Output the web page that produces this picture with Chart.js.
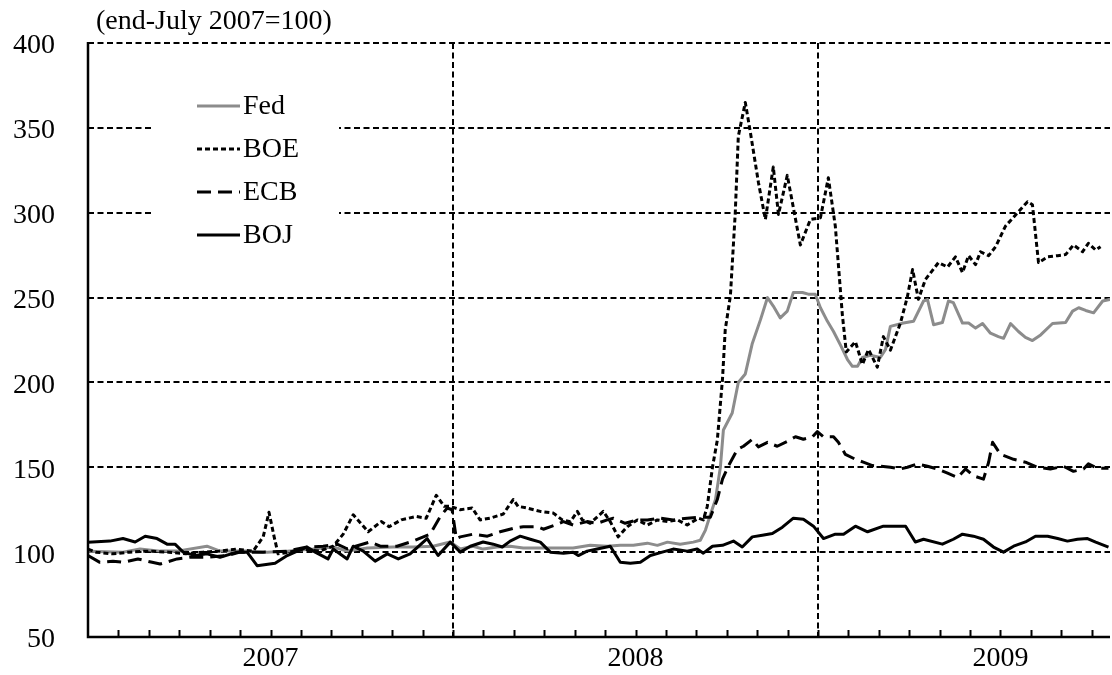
<!DOCTYPE html>
<html>
<head>
<meta charset="utf-8">
<script src="https://cdn.jsdelivr.net/npm/chart.js@4/dist/chart.umd.min.js"></script>
<style>
  html, body { margin: 0; padding: 0; background: #fff; }
</style>
</head>
<body>
<canvas id="chart" width="1112" height="675"></canvas>
<script>
// Index levels, end-July 2007 = 100. x = months since the start of 2007.
const unitNote = '(end-July 2007=100)';
const yearLabels = ['2007', '2008', '2009'];
const yearMidMonths = [6, 18, 30];
const yearBreakMonths = [12, 24];
const lastMonth = 33.6;

const fedMonth = [0, 1.15, 1.71, 2.37, 2.93, 3.91, 4.34, 5.23, 5.89, 6.55,
  7.40, 8.06, 8.52, 9.18, 10.03, 10.69, 11.35, 11.91, 12.24, 12.66,
  12.99, 13.45, 13.88, 14.31, 14.87, 15.43, 15.95, 16.51, 17.07, 17.50,
  17.93, 18.39, 18.72, 19.05, 19.47, 19.90, 20.13, 20.30, 20.46, 20.63,
  20.79, 20.89, 21.18, 21.38, 21.61, 21.84, 22.11, 22.34, 22.53, 22.76,
  22.99, 23.19, 23.49, 23.68, 23.91, 24.08, 24.31, 24.51, 24.74, 24.97,
  25.13, 25.30, 25.46, 25.72, 26.05, 26.22, 26.38, 26.81, 27.14, 27.47,
  27.60, 27.80, 28.09, 28.29, 28.45, 28.75, 28.95, 29.18, 29.41, 29.67,
  29.93, 30.10, 30.33, 30.59, 30.82, 31.05, 31.32, 31.71, 32.14, 32.37,
  32.57, 32.80, 33.06, 33.36, 33.62];
const fedValue = [100.5, 100, 101.8, 100.6, 100.6, 103.5, 100.6, 100.6, 100, 100.6,
  101.8, 103, 100.6, 102.4, 103, 103, 103.5, 106, 101.8, 103.5,
  101.8, 103, 103.5, 102.4, 102.4, 102.4, 102.4, 104, 103.5, 104,
  104, 105.3, 104, 105.9, 104.7, 105.9, 107, 113, 122, 131,
  150, 172, 182, 200, 205, 223, 237, 250, 245, 238,
  242, 253, 253, 252, 252, 244, 236, 230, 222, 213.5,
  209.5, 209.5, 214.7, 216, 214.7, 219.5, 233, 235, 236, 248,
  248.8, 234, 235.3, 248, 247, 235, 235, 232, 234.7, 229,
  227, 226, 234.7, 230, 226.5, 224.7, 228, 234.7, 235.3, 242,
  244, 242.4, 241, 248, 249];

const boeMonth = [0, 0.26, 0.82, 1.35, 1.91, 2.66, 3.22, 3.78, 4.31, 4.87,
  5.43, 5.76, 5.95, 6.12, 6.25, 6.61, 7.07, 7.60, 8.06, 8.39,
  8.72, 9.21, 9.64, 9.90, 10.30, 10.79, 11.12, 11.45, 11.71, 11.91,
  12.24, 12.63, 12.89, 13.22, 13.65, 13.98, 14.14, 14.44, 14.87, 15.30,
  15.59, 15.86, 16.09, 16.25, 16.51, 16.94, 17.17, 17.43, 17.73, 18.06,
  18.39, 18.72, 19.05, 19.38, 19.70, 20.07, 20.23, 20.36, 20.53, 20.69,
  20.86, 20.95, 21.12, 21.28, 21.38, 21.61, 21.78, 22.04, 22.27, 22.53,
  22.70, 22.99, 23.42, 23.75, 24.08, 24.34, 24.57, 24.80, 24.93, 25.23,
  25.46, 25.66, 25.95, 26.15, 26.38, 26.71, 26.94, 27.11, 27.30, 27.53,
  27.96, 28.26, 28.52, 28.75, 28.95, 29.18, 29.34, 29.61, 29.84, 30.16,
  30.56, 30.89, 31.05, 31.25, 31.55, 31.88, 32.14, 32.40, 32.70, 32.89,
  33.13, 33.29];
const boeValue = [101.8, 100, 99, 100, 100.6, 100, 99, 100, 100.6, 101.8,
  100.6, 109, 123.5, 109, 99, 100, 101.8, 100.6, 103.5, 110.6,
  122, 112, 118, 115, 119, 121, 120, 133.5, 127, 127,
  125, 126, 119, 120, 122.4, 131, 127, 126, 124, 123,
  119, 118, 124, 119, 117, 124, 118, 109, 115, 119,
  116, 119, 118, 119, 116, 120, 119, 127, 150, 166,
  202, 231, 251, 300, 345, 365, 347, 318, 296, 327,
  299, 322, 281, 296, 297, 320.6, 292, 240, 218, 224,
  210.6, 219.4, 209, 227, 219, 235, 250.6, 266.5, 249, 260.6,
  270.6, 268, 274, 264.7, 274.7, 269.4, 277, 274.7, 280, 292,
  300, 306.5, 304.7, 270.6, 274, 274.7, 275.3, 281, 277, 282,
  278, 280];

const ecbMonth = [0, 0.39, 0.82, 1.15, 1.64, 2.11, 2.37, 2.93, 3.36, 3.91,
  4.57, 5.00, 5.76, 6.55, 7.20, 7.73, 8.19, 8.52, 9.28, 9.61,
  10.16, 10.69, 11.25, 11.58, 11.81, 11.97, 12.11, 12.24, 12.66, 13.13,
  13.55, 13.98, 14.31, 14.77, 14.97, 15.36, 15.63, 15.95, 16.41, 16.74,
  17.07, 17.27, 17.66, 18.06, 18.39, 18.82, 19.24, 19.70, 20.13, 20.46,
  20.69, 20.86, 21.05, 21.35, 21.55, 21.84, 22.04, 22.34, 22.66, 22.99,
  23.26, 23.52, 23.82, 23.98, 24.18, 24.51, 24.67, 24.90, 25.23, 25.49,
  25.79, 26.05, 26.38, 26.71, 26.94, 27.27, 27.60, 27.93, 28.26, 28.59,
  28.85, 29.11, 29.44, 29.61, 29.74, 30.00, 30.43, 30.82, 31.22, 31.64,
  32.07, 32.40, 32.73, 32.89, 33.19, 33.55];
const ecbValue = [98, 94, 94.7, 94, 96, 94, 93, 96, 97, 97,
  98, 100, 100, 100.6, 103, 103.5, 104.7, 102, 106, 103.5,
  103.5, 106.5, 110.6, 121, 126, 125, 108, 109, 110.6, 109.4,
  112, 114, 115, 115, 113.5, 116, 118, 116, 118, 117,
  119, 120, 117, 119, 119, 120, 119, 120, 120.6, 120.6,
  131, 143, 150.6, 160.6, 162.4, 166.5, 162, 164.7, 162.4, 165.3,
  168, 166.5, 168, 171, 168, 168, 164.7, 157.6, 154.7, 153,
  151, 150.6, 150, 149, 150, 152, 150.6, 149, 146.5, 144,
  149, 145, 143, 153, 164.7, 157.6, 154.7, 153, 150, 149,
  150.6, 147.6, 149, 152, 149.4, 149.4];

const bojMonth = [0, 0.72, 1.15, 1.55, 1.88, 2.27, 2.60, 2.86, 3.13, 3.52,
  3.91, 4.34, 4.90, 5.23, 5.56, 6.15, 6.55, 6.88, 7.20, 7.47,
  7.89, 8.06, 8.52, 8.72, 9.05, 9.44, 9.84, 10.20, 10.59, 11.15,
  11.51, 11.91, 12.24, 12.57, 12.99, 13.32, 13.62, 13.88, 14.21, 14.54,
  14.87, 15.20, 15.63, 15.95, 16.12, 16.41, 16.74, 17.17, 17.50, 17.83,
  18.16, 18.49, 18.88, 19.24, 19.70, 20.03, 20.23, 20.53, 20.86, 21.22,
  21.51, 21.84, 22.17, 22.50, 22.83, 23.19, 23.52, 23.85, 24.18, 24.57,
  24.84, 25.23, 25.63, 26.15, 26.88, 27.20, 27.47, 28.09, 28.45, 28.75,
  29.11, 29.44, 29.77, 30.10, 30.43, 30.82, 31.15, 31.55, 31.88, 32.20,
  32.53, 32.86, 33.13, 33.55];
const bojValue = [105.9, 106.5, 108, 106, 109.4, 108, 104.7, 104.7, 100, 98,
  99, 97, 100, 100, 92, 93.5, 98, 100.6, 103, 100,
  96, 101.8, 96, 103.5, 100.6, 94.7, 99, 96, 99, 108,
  98, 105.9, 100, 103.5, 106, 104.7, 103, 106.5, 109.4, 107.6,
  105.9, 100, 99.4, 100, 98, 100.6, 101.8, 103.5, 94, 93.5,
  94, 98, 100, 101.8, 100.6, 101.8, 99.4, 103.5, 104, 106.5,
  103, 109, 110, 111, 114.7, 120, 119.4, 115.3, 108, 110.6,
  110.6, 115.3, 112, 115.3, 115.3, 106, 107.6, 104.7, 107.6, 110.6,
  109.4, 107.6, 103, 100, 103.5, 106, 109.4, 109.4, 108, 106.5,
  107.6, 108, 105.9, 103];

const FONT = "'Liberation Serif', 'Times New Roman', serif";
Chart.defaults.font.family = FONT;
Chart.defaults.font.size = 28;
Chart.defaults.color = '#000';

const points = (months, values) => months.map((m, i) => ({ x: m, y: values[i] }));

// Month tick marks inside the plot, solid axes, in-plot legend and the unit note.
const framePlugin = {
  id: 'frame',
  afterDatasetsDraw(chart) {
    const { ctx, chartArea: a, scales: { x } } = chart;
    ctx.save();
    ctx.strokeStyle = '#000';
    ctx.setLineDash([]);

    ctx.lineWidth = 2;
    ctx.beginPath();
    for (let m = 1; m < lastMonth; m++) {
      const px = Math.round(x.getPixelForValue(m)) + 0.5;
      ctx.moveTo(px, a.bottom);
      ctx.lineTo(px, a.bottom - 7);
    }
    ctx.stroke();

    ctx.lineWidth = 2.5;
    ctx.beginPath();
    ctx.moveTo(a.left, a.top - 1);
    ctx.lineTo(a.left, a.bottom);
    ctx.lineTo(a.right, a.bottom);
    ctx.stroke();

    // legend box
    ctx.fillStyle = '#fff';
    ctx.fillRect(153, 86, 186, 176);
    ctx.font = `28px ${FONT}`;
    ctx.textBaseline = 'middle';
    chart.data.datasets.forEach((ds, i) => {
      const ly = 106 + i * 43;
      ctx.strokeStyle = ds.borderColor;
      ctx.lineWidth = ds.borderWidth;
      ctx.setLineDash(ds.borderDash || []);
      ctx.beginPath();
      ctx.moveTo(197, ly);
      ctx.lineTo(240, ly);
      ctx.stroke();
      ctx.fillStyle = '#000';
      ctx.fillText(ds.label, 243, ly + 1);
    });

    ctx.setLineDash([]);
    ctx.fillStyle = '#000';
    ctx.fillText(unitNote, 96, 22);
    ctx.restore();
  },
};

new Chart(document.getElementById('chart'), {
  type: 'line',
  data: {
    datasets: [
      {
        label: 'Fed',
        data: points(fedMonth, fedValue),
        borderColor: '#8c8c8c',
        borderWidth: 3,
        order: 4,
      },
      {
        label: 'BOE',
        data: points(boeMonth, boeValue),
        borderColor: '#000',
        borderWidth: 3,
        borderDash: [5, 3],
        order: 3,
      },
      {
        label: 'ECB',
        data: points(ecbMonth, ecbValue),
        borderColor: '#000',
        borderWidth: 3,
        borderDash: [14, 7],
        order: 2,
      },
      {
        label: 'BOJ',
        data: points(bojMonth, bojValue),
        borderColor: '#000',
        borderWidth: 3,
        order: 1,
      },
    ],
  },
  options: {
    responsive: false,
    animation: false,
    layout: { padding: { top: 43, right: 2, bottom: 0, left: 0 } },
    elements: {
      point: { radius: 0 },
      line: { tension: 0, borderCapStyle: 'butt', borderJoinStyle: 'round' },
    },
    plugins: {
      legend: { display: false },
      tooltip: { enabled: false },
    },
    scales: {
      x: {
        type: 'linear',
        min: 0,
        max: lastMonth,
        afterBuildTicks: (scale) => {
          scale.ticks = yearMidMonths.concat(yearBreakMonths)
            .sort((p, q) => p - q)
            .map((v) => ({ value: v }));
        },
        afterFit: (scale) => { scale.height = 38; },
        ticks: {
          autoSkip: false,
          maxRotation: 0,
          padding: 5,
          callback: (v) => {
            const i = yearMidMonths.indexOf(v);
            return i >= 0 ? yearLabels[i] : '';
          },
        },
        grid: {
          drawTicks: false,
          lineWidth: 2,
          color: (c) => (yearBreakMonths.includes(c.tick && c.tick.value) ? '#000' : 'rgba(0,0,0,0)'),
        },
        border: { display: false, dash: [6, 3.5] },
      },
      y: {
        min: 50,
        max: 400,
        afterFit: (scale) => {
          // fixed axis width; label overhang should not shrink the plot
          scale.width = 88;
          scale.paddingTop = 0;
          scale.paddingBottom = 0;
        },
        ticks: { stepSize: 50, padding: 33, labelOffset: 3 },
        grid: {
          drawTicks: false,
          lineWidth: 2,
          color: (c) => (c.tick && c.tick.value === 50 ? 'rgba(0,0,0,0)' : '#000'),
        },
        border: { display: false, dash: [6, 3.5] },
      },
    },
  },
  plugins: [framePlugin],
});
</script>
</body>
</html>
